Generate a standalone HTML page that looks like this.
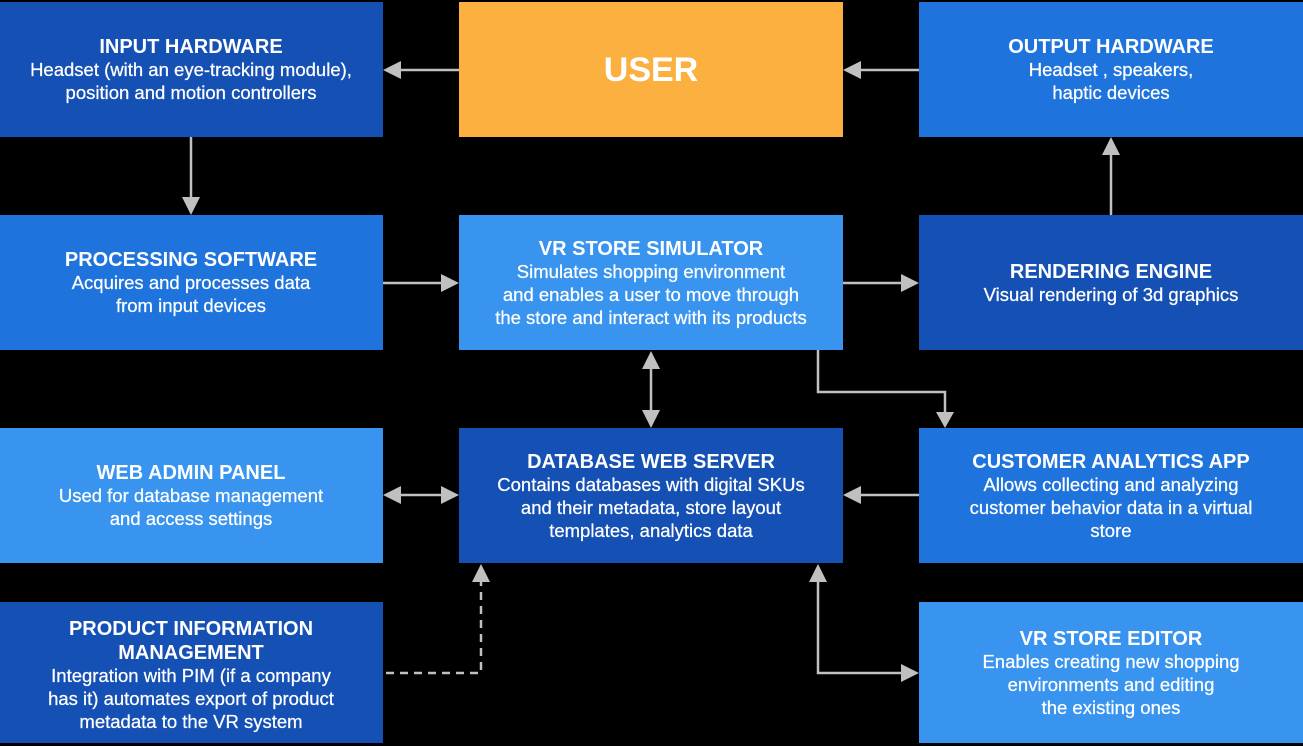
<!DOCTYPE html>
<html><head><meta charset="utf-8"><style>
html,body{margin:0;padding:0;background:#000;}
svg{display:block;font-family:"Liberation Sans",sans-serif;}
.t{font-weight:bold;font-size:20px;fill:#fff;text-anchor:middle;}
.b{font-size:18.5px;fill:#fff;text-anchor:middle;stroke:#fff;stroke-width:0.25;}
.l{stroke:#c0c0c0;stroke-width:2.5;fill:none;}
.a{fill:#c0c0c0;}
</style></head><body>
<svg width="1303" height="746" viewBox="0 0 1303 746">
<rect x="0" y="0" width="1303" height="746" fill="#000"/>
<rect x="0" y="2" width="383" height="135" fill="#1550b4"/>
<rect x="459" y="2" width="384" height="135" fill="#fbb040"/>
<rect x="919" y="2" width="384" height="135" fill="#1e74dc"/>
<rect x="0" y="215" width="383" height="135" fill="#1e74dc"/>
<rect x="459" y="215" width="384" height="135" fill="#3894ef"/>
<rect x="919" y="215" width="384" height="135" fill="#1550b4"/>
<rect x="0" y="428" width="383" height="135" fill="#3894ef"/>
<rect x="459" y="428" width="384" height="135" fill="#1550b4"/>
<rect x="919" y="428" width="384" height="135" fill="#1e74dc"/>
<rect x="0" y="602" width="383" height="141" fill="#1550b4"/>
<rect x="919" y="602" width="384" height="141" fill="#3894ef"/>
<text class="t" x="191" y="53">INPUT HARDWARE</text>
<text class="b" x="191" y="76">Headset (with an eye-tracking module),</text>
<text class="b" x="191" y="99">position and motion controllers</text>
<text x="651" y="81" style="font-weight:bold;font-size:34px;fill:#fff;text-anchor:middle">USER</text>
<text class="t" x="1111" y="53">OUTPUT HARDWARE</text>
<text class="b" x="1111" y="76">Headset , speakers,</text>
<text class="b" x="1111" y="99">haptic devices</text>
<text class="t" x="191" y="266">PROCESSING SOFTWARE</text>
<text class="b" x="191" y="289">Acquires and processes data</text>
<text class="b" x="191" y="312">from input devices</text>
<text class="t" x="651" y="255">VR STORE SIMULATOR</text>
<text class="b" x="651" y="278">Simulates shopping environment</text>
<text class="b" x="651" y="301">and enables a user to move through</text>
<text class="b" x="651" y="324">the store and interact with its products</text>
<text class="t" x="1111" y="278">RENDERING ENGINE</text>
<text class="b" x="1111" y="301">Visual rendering of 3d graphics</text>
<text class="t" x="191" y="479">WEB ADMIN PANEL</text>
<text class="b" x="191" y="502">Used for database management</text>
<text class="b" x="191" y="525">and access settings</text>
<text class="t" x="651" y="468">DATABASE WEB SERVER</text>
<text class="b" x="651" y="491">Contains databases with digital SKUs</text>
<text class="b" x="651" y="514">and their metadata, store layout</text>
<text class="b" x="651" y="537">templates, analytics data</text>
<text class="t" x="1111" y="468">CUSTOMER ANALYTICS APP</text>
<text class="b" x="1111" y="491">Allows collecting and analyzing</text>
<text class="b" x="1111" y="514">customer behavior data in a virtual</text>
<text class="b" x="1111" y="537">store</text>
<text class="t" x="191" y="635">PRODUCT INFORMATION</text>
<text class="t" x="191" y="659">MANAGEMENT</text>
<text class="b" x="191" y="682">Integration with PIM (if a company</text>
<text class="b" x="191" y="705">has it) automates export of product</text>
<text class="b" x="191" y="728">metadata to the VR system</text>
<text class="t" x="1111" y="645">VR STORE EDITOR</text>
<text class="b" x="1111" y="668">Enables creating new shopping</text>
<text class="b" x="1111" y="691">environments and editing</text>
<text class="b" x="1111" y="714">the existing ones</text>
<line class="l" x1="459" y1="70" x2="400" y2="70"/><polygon class="a" points="383,70 401,61 401,79"/>
<line class="l" x1="919" y1="70" x2="860" y2="70"/><polygon class="a" points="843,70 861,61 861,79"/>
<line class="l" x1="191" y1="137" x2="191" y2="198"/><polygon class="a" points="191,215 182,197 200,197"/>
<line class="l" x1="383" y1="283" x2="442" y2="283"/><polygon class="a" points="459,283 441,274 441,292"/>
<line class="l" x1="843" y1="283" x2="902" y2="283"/><polygon class="a" points="919,283 901,274 901,292"/>
<line class="l" x1="1111" y1="215" x2="1111" y2="154"/><polygon class="a" points="1111,137 1102,155 1120,155"/>
<line class="l" x1="651" y1="368" x2="651" y2="410"/><polygon class="a" points="651,351 642,369 660,369"/><polygon class="a" points="651,428 642,410 660,410"/>
<polyline class="l" points="818,350 818,392 945,392 945,412"/><polygon class="a" points="945,428 936,412 954,412"/>
<line class="l" x1="400" y1="495" x2="442" y2="495"/><polygon class="a" points="383,495 401,486 401,504"/><polygon class="a" points="459,495 441,486 441,504"/>
<line class="l" x1="919" y1="495" x2="860" y2="495"/><polygon class="a" points="843,495 861,486 861,504"/>
<polyline class="l" points="386,673 481,673 481,582" style="stroke-dasharray:8,6"/><polygon class="a" points="481,564 472,582 490,582"/>
<polyline class="l" points="818,582 818,673 902,673"/><polygon class="a" points="818,564 809,582 827,582"/><polygon class="a" points="919,673 901,664 901,682"/>
</svg>
</body></html>
